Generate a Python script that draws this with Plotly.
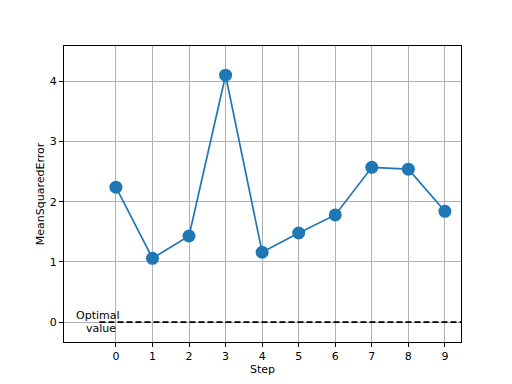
import plotly.graph_objects as go

steps = [0, 1, 2, 3, 4, 5, 6, 7, 8, 9]
mse = [2.24, 1.06, 1.43, 4.10, 1.16, 1.48, 1.78, 2.57, 2.54, 1.84]
optimal_value = 0.0
optimal_x = [-0.45, 9.44]
x_ticks = [0, 1, 2, 3, 4, 5, 6, 7, 8, 9]
y_ticks = [0, 1, 2, 3, 4]

fig = go.Figure()
fig.add_trace(go.Scatter(
    x=optimal_x, y=[optimal_value, optimal_value], mode="lines",
    line=dict(color="black", width=1.7, dash="6px,3px"), showlegend=False))
fig.add_trace(go.Scatter(
    x=steps, y=mse, mode="lines+markers",
    line=dict(color="#1f77b4", width=1.7),
    marker=dict(color="#1f77b4", size=13), showlegend=False))

label_font = dict(family="DejaVu Sans", size=11, color="black")
fig.add_annotation(x=-0.5, y=optimal_value, text="Optimal", showarrow=False,
                   font=label_font, xanchor="center", yanchor="middle",
                   yshift=7, borderpad=0)
fig.add_annotation(x=-0.4, y=optimal_value, text="value", showarrow=False,
                   font=label_font, xanchor="center", yanchor="middle",
                   yshift=-6, borderpad=0)

axis_common = dict(showline=True, linecolor="black", linewidth=1, mirror=True,
                   ticks="outside", ticklen=4, tickcolor="black", tickwidth=1,
                   showgrid=True, gridcolor="#b0b0b0", gridwidth=1, zeroline=False,
                   automargin=False,
                   tickfont=dict(family="DejaVu Sans", size=11, color="black"))

# page body has an 8px margin, so the figure is sized to fit the 512x384 window
fig.update_layout(
    width=504, height=376,
    margin=dict(l=56, r=51, t=38, b=42),
    paper_bgcolor="white", plot_bgcolor="white",
    font=dict(family="DejaVu Sans", size=11, color="black"),
    xaxis=dict(range=[-1.42, 9.44], tickvals=x_ticks,
               title=dict(text="Step", standoff=2, font=dict(size=11)), **axis_common),
    yaxis=dict(range=[-0.33, 4.585], tickvals=y_ticks,
               title=dict(text="MeanSquaredError", standoff=2, font=dict(size=11)), **axis_common),
)

fig.write_html("out.html")
